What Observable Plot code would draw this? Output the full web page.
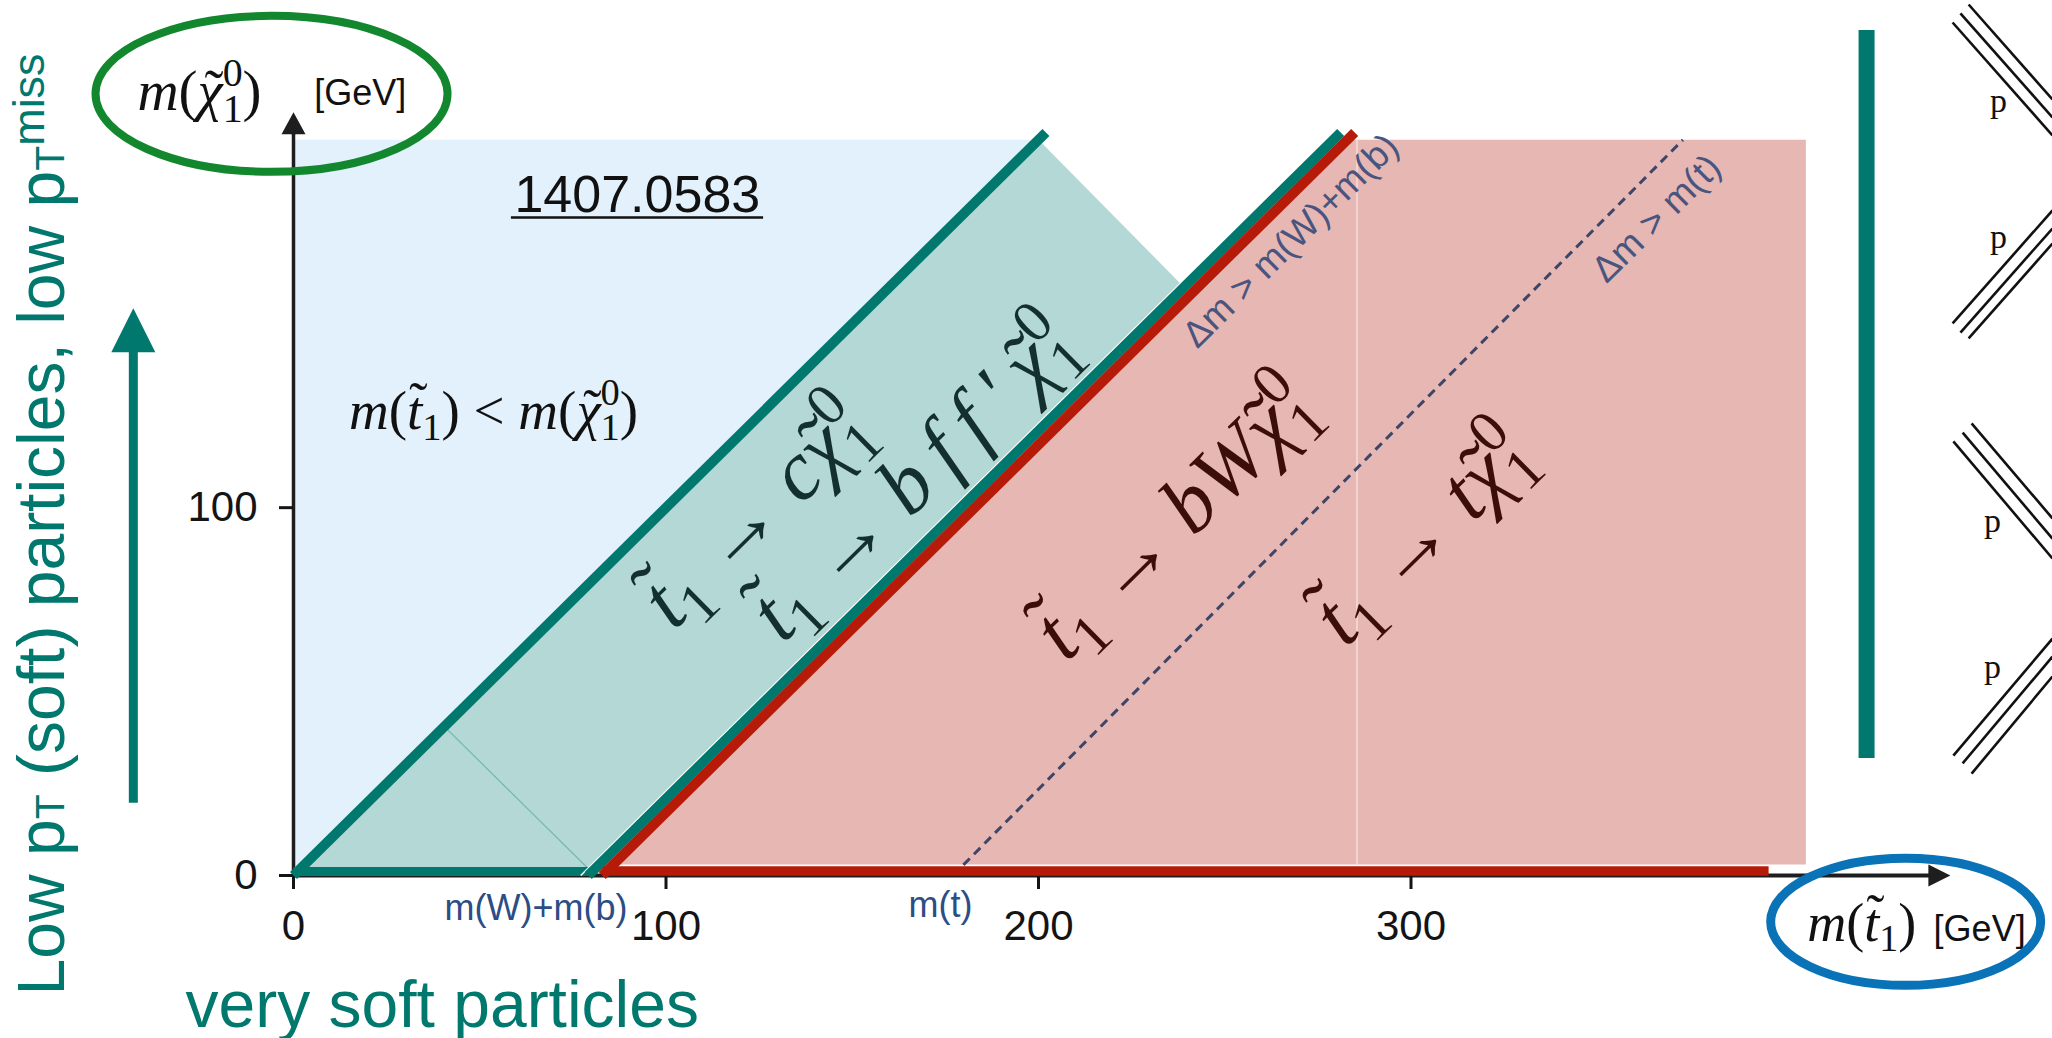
<!DOCTYPE html>
<html>
<head>
<meta charset="utf-8">
<script src="https://cdn.jsdelivr.net/npm/d3@7"></script>
<script src="https://cdn.jsdelivr.net/npm/@observablehq/plot@0.6"></script>
<style>
  html, body { margin: 0; padding: 0; background: #fff; overflow: hidden; }
  #chart svg { display: block; }
</style>
</head>
<body>
<div id="chart"></div>
<script>
// ---- Stop-pair decay phase space in the (m(stop), m(neutralino)) plane, in GeV ----

// Mass thresholds along the m(stop) axis
const massWb = 81;    // m(W)+m(b)
const massTop = 177;  // m(t)

// Region outlines, as [m(stop), m(neutralino)] vertices
const noDecayRegion   = [[0, 0], [0, 200], [200, 200]];
const fourBodyRegion  = [[0, 0], [81, 0], [240, 159], [200, 200]];
const threeBodyRegion = [[84, 3], [406, 3], [406, 200], [281, 200]];

// Boundary lines
const kinematicEdge  = [[0, 0], [202, 202]];
const wbEdge         = [[81, 0], [283, 202]];
const topEdge        = [[177, 0], [373, 200]];
const fourBodyFloor  = [[0, 0], [81, 0]];
const threeBodyFloor = [[83, 0], [396, 0]];
const innerChord     = [[40.5, 40.5], [81, 0]];
const panelSeam      = [[285.5, 3], [285.5, 200]];

// Axes
const xTicks = [0, 100, 200, 300];
const yTicks = [0, 100];
const xAxisLine = [[0, 0], [440, 0]];
const yAxisLine = [[0, 0], [0, 201.5]];
const axisTips = [{x: 444.8, y: 0, dir: "right"}, {x: 0, y: 207.5, dir: "up"}];

// Text annotations (anchor positions in GeV)
const yTitle  = [{x: -41.9, y: 208, text: "$m(χ̃^{0}_{1})"}];
const yUnit   = [{x: 30.3, y: 209.6, text: "[GeV]"}];
const xTitle  = [{x: 406.4, y: -17.7, text: "$m(t̃_{1})"}];
const xUnit   = [{x: 440.3, y: -17.7, text: "[GeV]"}];
const paperId = [{x: 92.3, y: 180.3, text: "1407.0583"}];
const paperUnderline = [{y: 178.9, x1: 58.5, x2: 126.2}];
const forbiddenNote = [{x: 53.7, y: 121.5, text: "$m(t̃_{1}) < m(χ̃^{0}_{1})"}];
const tealDecays = [
  {x: 124, y: 98.5, text: "$t̃_{1} → cχ̃^{0}_{1}"},
  {x: 166.3, y: 108, text: "$t̃_{1} → b\u2009f\u2009f\u2009'\u2009χ̃^{0}_{1}"}
];
const pinkDecays = [
  {x: 236.5, y: 97, text: "$t̃_{1} → bWχ̃^{0}_{1}"},
  {x: 303, y: 92.5, text: "$t̃_{1} → tχ̃^{0}_{1}"}
];
const thresholdNotes = [
  {x: 267.7, y: 172.6, text: "Δm > m(W)+m(b)"},
  {x: 365.9, y: 178.6, text: "Δm > m(t)"}
];
const thresholdTicks = [
  {x: 65.1, y: -12, text: "m(W)+m(b)"},
  {x: 173.7, y: -11.4, text: "m(t)"}
];

// Side annotations
const softLabel = [{x: -61.7, y: -32.6, text: "Low p%{T} (soft) particles, low p%{T}^{miss}"}];
const verySoftLabel = [{x: -29, y: -41.3, text: "very soft particles"}];
const softArrowShaft = [[-43, 19.8], [-43, 145]];
const softArrowTip = [{x: -43, y: 154.2}];
const yTitleRing = [{x: -5.9, y: 212.5}];
const xTitleRing = [{x: 432.8, y: -12.6}];
const sideBar = [{x: 422.3, y1: 31.8, y2: 229.7}];

// Incoming proton lines (two diagrams, triple lines each)
const protonLines = [
  {x1: 445.4, y1: 231.9, x2: 472.2, y2: 201.2},
  {x1: 447.5, y1: 234.4, x2: 472.2, y2: 206.1},
  {x1: 449.7, y1: 236.8, x2: 472.2, y2: 211.0},
  {x1: 445.4, y1: 150.1, x2: 472.2, y2: 180.8},
  {x1: 447.5, y1: 147.6, x2: 472.2, y2: 175.9},
  {x1: 449.7, y1: 146.0, x2: 472.2, y2: 171.8},
  {x1: 445.6, y1: 118.0, x2: 472.2, y2: 86.2},
  {x1: 448.1, y1: 120.4, x2: 472.2, y2: 91.6},
  {x1: 450.5, y1: 122.9, x2: 472.2, y2: 97.1},
  {x1: 445.6, y1: 32.6, x2: 472.2, y2: 64.4},
  {x1: 448.1, y1: 30.5, x2: 472.2, y2: 59.5},
  {x1: 450.5, y1: 27.7, x2: 472.2, y2: 54.1}
];
const protonLabels = [
  {x: 457.7, y: 207.5, text: "p"},
  {x: 457.7, y: 170.5, text: "p"},
  {x: 456.1, y: 93.3, text: "p"},
  {x: 456.1, y: 53.6, text: "p"}
];

// ---- styling ----
const sans = "'Liberation Sans', Arial, Helvetica, sans-serif";
const serif = "'Liberation Serif', 'Times New Roman', serif";
const teal = "#00786d";
const red = "#b51b08";
const slope = -44.6; // on-screen angle of the Δm = const lines

const px = (d) => d[0];
const py = (d) => d[1];

// Custom symbols: arrowheads with the tip on the anchor, and an outline ellipse
function arrowHead(len, hw, dir) {
  return {
    draw(ctx) {
      if (dir === "up") {
        ctx.moveTo(0, 0); ctx.lineTo(-hw, len); ctx.lineTo(hw, len);
      } else {
        ctx.moveTo(0, 0); ctx.lineTo(-len, -hw); ctx.lineTo(-len, hw);
      }
      ctx.closePath();
    }
  };
}
function ring(rx, ry) {
  const k = 0.5522847;
  return {
    draw(ctx) {
      ctx.moveTo(rx, 0);
      ctx.bezierCurveTo(rx, k * ry, k * rx, ry, 0, ry);
      ctx.bezierCurveTo(-k * rx, ry, -rx, k * ry, -rx, 0);
      ctx.bezierCurveTo(-rx, -k * ry, -k * rx, -ry, 0, -ry);
      ctx.bezierCurveTo(k * rx, -ry, rx, -k * ry, rx, 0);
      ctx.closePath();
    }
  };
}

const chart = Plot.plot({
  width: 2052,
  height: 1038,
  marginLeft: 293,
  marginRight: 120,
  marginTop: 29,
  marginBottom: 163,
  x: {domain: [0, 440]},
  y: {domain: [0, 230]},
  style: {background: "#fff", fontFamily: sans, color: "#1b1b1b", overflow: "visible"},
  marks: [
    // regions
    Plot.line(noDecayRegion, {x: px, y: py, fill: "#e2f1fc", stroke: "none"}),
    Plot.line(fourBodyRegion, {x: px, y: py, fill: "#b3d8d5", stroke: "none"}),
    Plot.line(threeBodyRegion, {x: px, y: py, fill: "#e7b8b3", stroke: "none"}),
    Plot.line(panelSeam, {x: px, y: py, stroke: "#f7e3e0", strokeWidth: 1.3}),
    Plot.line(innerChord, {x: px, y: py, stroke: "#76b8b2", strokeWidth: 1.2}),
    Plot.line(topEdge, {x: px, y: py, stroke: "#3d4568", strokeWidth: 3, strokeDasharray: "9,6", strokeLinecap: "butt"}),

    // axes
    Plot.line(xAxisLine, {x: px, y: py, stroke: "#1e1e1e", strokeWidth: 4}),
    Plot.line(yAxisLine, {x: px, y: py, stroke: "#1e1e1e", strokeWidth: 3.5}),
    Plot.axisX(xTicks, {anchor: "bottom", tickSize: 14, tickPadding: 21, fontSize: 42, strokeWidth: 3, color: "#141414", label: null}),
    Plot.axisY(yTicks, {anchor: "left", tickSize: 14, tickPadding: 22, fontSize: 42, strokeWidth: 3, color: "#141414", label: null}),
    Plot.dot(axisTips.filter((d) => d.dir === "right"), {x: "x", y: "y", symbol: arrowHead(22, 11, "right"), fill: "#1e1e1e", stroke: "none"}),
    Plot.dot(axisTips.filter((d) => d.dir === "up"), {x: "x", y: "y", symbol: arrowHead(22, 12, "up"), fill: "#1e1e1e", stroke: "none"}),

    // boundary lines
    Plot.line(kinematicEdge, {x: px, y: py, stroke: teal, strokeWidth: 10, strokeLinecap: "butt"}),
    Plot.line(fourBodyFloor, {x: px, y: py, stroke: teal, strokeWidth: 9, strokeLinecap: "butt", dy: -4}),
    Plot.line(threeBodyFloor, {x: px, y: py, stroke: red, strokeWidth: 9.5, strokeLinecap: "butt", dy: -4.5}),
    Plot.line(wbEdge, {x: px, y: py, stroke: "#ffffff", strokeWidth: 1.6, strokeLinecap: "butt", dx: -14.5}),
    Plot.line(wbEdge, {x: px, y: py, stroke: teal, strokeWidth: 10, strokeLinecap: "butt", dx: -7}),
    Plot.line(wbEdge, {x: px, y: py, stroke: red, strokeWidth: 10, strokeLinecap: "butt", dx: 7}),

    // labels in the plane
    Plot.text(paperId, {x: "x", y: "y", text: "text", fontSize: 52, fontFamily: sans, fill: "#111", lineAnchor: "bottom"}),
    Plot.ruleY(paperUnderline, {y: "y", x1: "x1", x2: "x2", stroke: "#111", strokeWidth: 2.5}),
    Plot.text(forbiddenNote, {x: "x", y: "y", text: "text", fontSize: 55, fontFamily: serif, fill: "#111", lineAnchor: "bottom"}),
    Plot.text(tealDecays, {x: "x", y: "y", text: "text", fontSize: 84, fontFamily: serif, fill: "#14302e", rotate: slope}),
    Plot.text(pinkDecays, {x: "x", y: "y", text: "text", fontSize: 84, fontFamily: serif, fill: "#3c0e09", rotate: slope}),
    Plot.text(thresholdNotes, {x: "x", y: "y", text: "text", fontSize: 37, fontFamily: sans, fill: "#4a557f", rotate: slope}),
    Plot.text(thresholdTicks, {x: "x", y: "y", text: "text", fontSize: 36, fontFamily: sans, fill: "#2c4d85", lineAnchor: "bottom"}),

    // axis titles
    Plot.text(yTitle, {x: "x", y: "y", text: "text", fontSize: 57, fontFamily: serif, fill: "#111", textAnchor: "start", lineAnchor: "bottom"}),
    Plot.text(yUnit, {x: "x", y: "y", text: "text", fontSize: 36, fontFamily: sans, fill: "#111", textAnchor: "end", lineAnchor: "bottom"}),
    Plot.text(xTitle, {x: "x", y: "y", text: "text", fontSize: 54, fontFamily: serif, fill: "#111", textAnchor: "start", lineAnchor: "bottom"}),
    Plot.text(xUnit, {x: "x", y: "y", text: "text", fontSize: 36, fontFamily: sans, fill: "#111", textAnchor: "start", lineAnchor: "bottom"}),
    Plot.dot(yTitleRing, {x: "x", y: "y", symbol: ring(176, 78), fill: "none", stroke: "#12872e", strokeWidth: 8}),
    Plot.dot(xTitleRing, {x: "x", y: "y", symbol: ring(135, 63.5), fill: "none", stroke: "#0a72b6", strokeWidth: 9}),

    // left-hand annotation
    Plot.text(softLabel, {x: "x", y: "y", text: "text", fontSize: 66, fontFamily: sans, fill: teal, rotate: -90, textAnchor: "start", lineAnchor: "bottom"}),
    Plot.text(verySoftLabel, {x: "x", y: "y", text: "text", fontSize: 66, fontFamily: sans, fill: teal, textAnchor: "start", lineAnchor: "bottom"}),
    Plot.line(softArrowShaft, {x: px, y: py, stroke: teal, strokeWidth: 9, strokeLinecap: "butt"}),
    Plot.dot(softArrowTip, {x: "x", y: "y", symbol: arrowHead(44, 22, "up"), fill: teal, stroke: "none"}),

    // right-hand side: bar and proton lines
    Plot.ruleX(sideBar, {x: "x", y1: "y1", y2: "y2", stroke: teal, strokeWidth: 16}),
    Plot.link(protonLines, {x1: "x1", y1: "y1", x2: "x2", y2: "y2", stroke: "#111", strokeWidth: 2.6}),
    Plot.text(protonLabels, {x: "x", y: "y", text: "text", fontSize: 34, fontFamily: serif, fill: "#111", lineAnchor: "bottom"})
  ]
});

document.getElementById("chart").append(chart);

// Turn the light markup in label strings into SVG tspans:
//   leading "$" -> math style (letters and primes italic, the rest upright, x̃ tildes placed over the letter)
//   ^{..} superscript, _{..} subscript (stacked under a preceding superscript),
//   %{..} small letters on the baseline
function typeset(svg) {
  const NS = "http://www.w3.org/2000/svg";
  const LETTER = "A-Za-z\u0370-\u03FF'";
  const isLetter = new RegExp(`[${LETTER}]`);
  const runPattern = new RegExp(`[${LETTER}]\u0303|(?:[${LETTER}](?!\u0303))+|[^${LETTER}]+`, "g");
  svg.querySelectorAll("text").forEach((el) => {
    let s = el.textContent;
    if (!/^\$|[\^_%]\{/.test(s)) return;
    const math = s.startsWith("$");
    if (math) s = s.slice(1);
    const fs = parseFloat(el.closest("[font-size]")?.getAttribute("font-size")) || 16;
    el.textContent = "";
    let shift = 0, pendingDx = 0;
    const emit = (text, {size = fs, base = 0, italic = null, dx = 0} = {}) => {
      const t = document.createElementNS(NS, "tspan");
      t.textContent = text;
      if (size !== fs) t.setAttribute("font-size", size);
      if (italic !== null) t.setAttribute("font-style", italic ? "italic" : "normal");
      if (base !== shift) { t.setAttribute("dy", base - shift); shift = base; }
      const totalDx = dx + pendingDx;
      pendingDx = 0;
      if (totalDx) t.setAttribute("dx", totalDx);
      el.appendChild(t);
      return t;
    };
    let lastSup = null;
    const parts = s.split(/(\^\{[^}]*\}|_\{[^}]*\}|%\{[^}]*\})/).filter((p) => p !== "");
    for (const part of parts) {
      let kind = "", body = part;
      if (/^[\^_%]\{/.test(part)) { kind = part[0]; body = part.slice(2, -1); }
      const base = kind === "^" ? -(math ? 0.42 : 0.3) * fs : kind === "_" ? (math ? 0.2 : 0.12) * fs : 0;
      const size = kind === "" ? fs : kind === "%" ? 0.62 * fs : (math ? 0.7 : 0.68) * fs;
      let stackDx = (kind === "_" && lastSup) ? -lastSup.getComputedTextLength() : 0;
      let last = null;
      if (!math) {
        last = emit(body, {size, base, dx: stackDx});
      } else {
        for (const run of body.match(runPattern) || []) {
          if (run.endsWith("\u0303")) {
            const letter = run[0];
            const lt = emit(letter, {size, base, italic: true, dx: stackDx});
            const wL = lt.getComputedTextLength();
            const raise = letter === "t" ? 0.16 * size : 0.02 * size;
            const skew = 0.07 * size;
            const tl = emit("\u02DC", {size, base: base - raise, italic: false});
            const wT = tl.getComputedTextLength();
            tl.setAttribute("dx", -(wL + wT) / 2 + skew);
            pendingDx = (wL - wT) / 2 - skew;
            last = lt;
          } else {
            last = emit(run, {size, base, italic: isLetter.test(run), dx: stackDx});
          }
          stackDx = 0;
        }
      }
      lastSup = kind === "^" ? last : null;
    }
  });
}
typeset(chart);
</script>
</body>
</html>
